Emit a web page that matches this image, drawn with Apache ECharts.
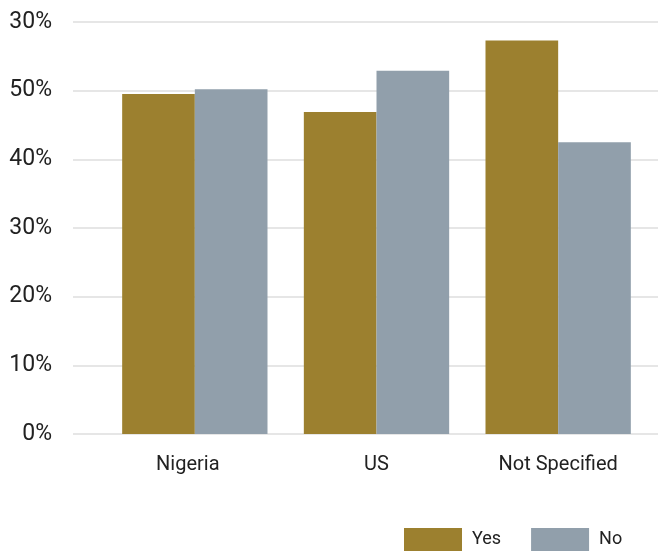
<!DOCTYPE html>
<html>
<head>
<meta charset="utf-8">
<script src="https://cdn.jsdelivr.net/npm/echarts@6/dist/echarts.min.js"></script>
<style>
  html, body { margin: 0; padding: 0; background: #fff; }
  #chart { width: 658px; height: 551px; }
</style>
</head>
<body>
<div id="chart"></div>
<script>
// Survey answers by location, share of respondents (%)
const categories = ['Nigeria', 'US', 'Not Specified'];
const yesValues = [49.5, 46.9, 57.3];
const noValues = [50.2, 52.9, 42.5];
// Y-axis tick labels, one per 10% step from 0 upwards
const yTickLabels = ['0%', '10%', '20%', '30%', '40%', '50%', '30%'];

const FONT = 'Roboto';
const GOLD = '#9c802f';
const GREY = '#919fab';

// the first category label sits slightly left of its bar pair
const categoryData = categories.map((name, i) =>
  i === 0 ? { value: name, textStyle: { padding: [0, 14, 0, 0] } } : name
);

const chart = echarts.init(document.getElementById('chart'), null, { renderer: 'canvas' });

chart.setOption({
  animation: false,
  textStyle: { fontFamily: FONT },
  grid: [
    // grid carrying the value axis, its labels and gridlines
    { left: 73, right: 0, top: 22, bottom: 117, containLabel: false },
    // grid carrying the categories and the bars
    { left: 104, right: 9, top: 22, bottom: 117, containLabel: false }
  ],
  xAxis: [
    { type: 'value', gridIndex: 0, show: false, min: 0, max: 1 },
    {
      type: 'category',
      gridIndex: 1,
      data: categoryData,
      axisLine: { show: false },
      axisTick: { show: false },
      axisLabel: { color: '#222', fontSize: 20, fontFamily: FONT, margin: 21 }
    }
  ],
  yAxis: [
    {
      type: 'value',
      gridIndex: 0,
      min: 0,
      max: 60,
      interval: 10,
      axisLine: { show: false },
      axisTick: { show: false },
      axisLabel: {
        color: '#222',
        fontSize: 23,
        fontFamily: FONT,
        margin: 21,
        formatter: v => yTickLabels[Math.round(v / 10)]
      },
      splitLine: { lineStyle: { color: '#e6e6e6', width: 2 } }
    },
    {
      type: 'value',
      gridIndex: 1,
      min: 0,
      max: 60,
      interval: 10,
      show: false,
      splitLine: { show: false }
    }
  ],
  legend: {
    data: ['Yes', 'No'],
    left: 404,
    top: 528,
    padding: 0,
    itemWidth: 58,
    itemHeight: 23,
    itemGap: 30,
    icon: 'rect',
    textStyle: { color: '#222', fontSize: 18, fontFamily: FONT, padding: [0, 0, 0, 5] }
  },
  series: [
    {
      name: 'Yes',
      type: 'bar',
      xAxisIndex: 1,
      yAxisIndex: 1,
      data: yesValues,
      barGap: '0%',
      barCategoryGap: '20%',
      itemStyle: { color: GOLD }
    },
    {
      name: 'No',
      type: 'bar',
      xAxisIndex: 1,
      yAxisIndex: 1,
      data: noValues,
      barGap: '0%',
      barCategoryGap: '20%',
      itemStyle: { color: GREY }
    }
  ]
});
</script>
</body>
</html>
